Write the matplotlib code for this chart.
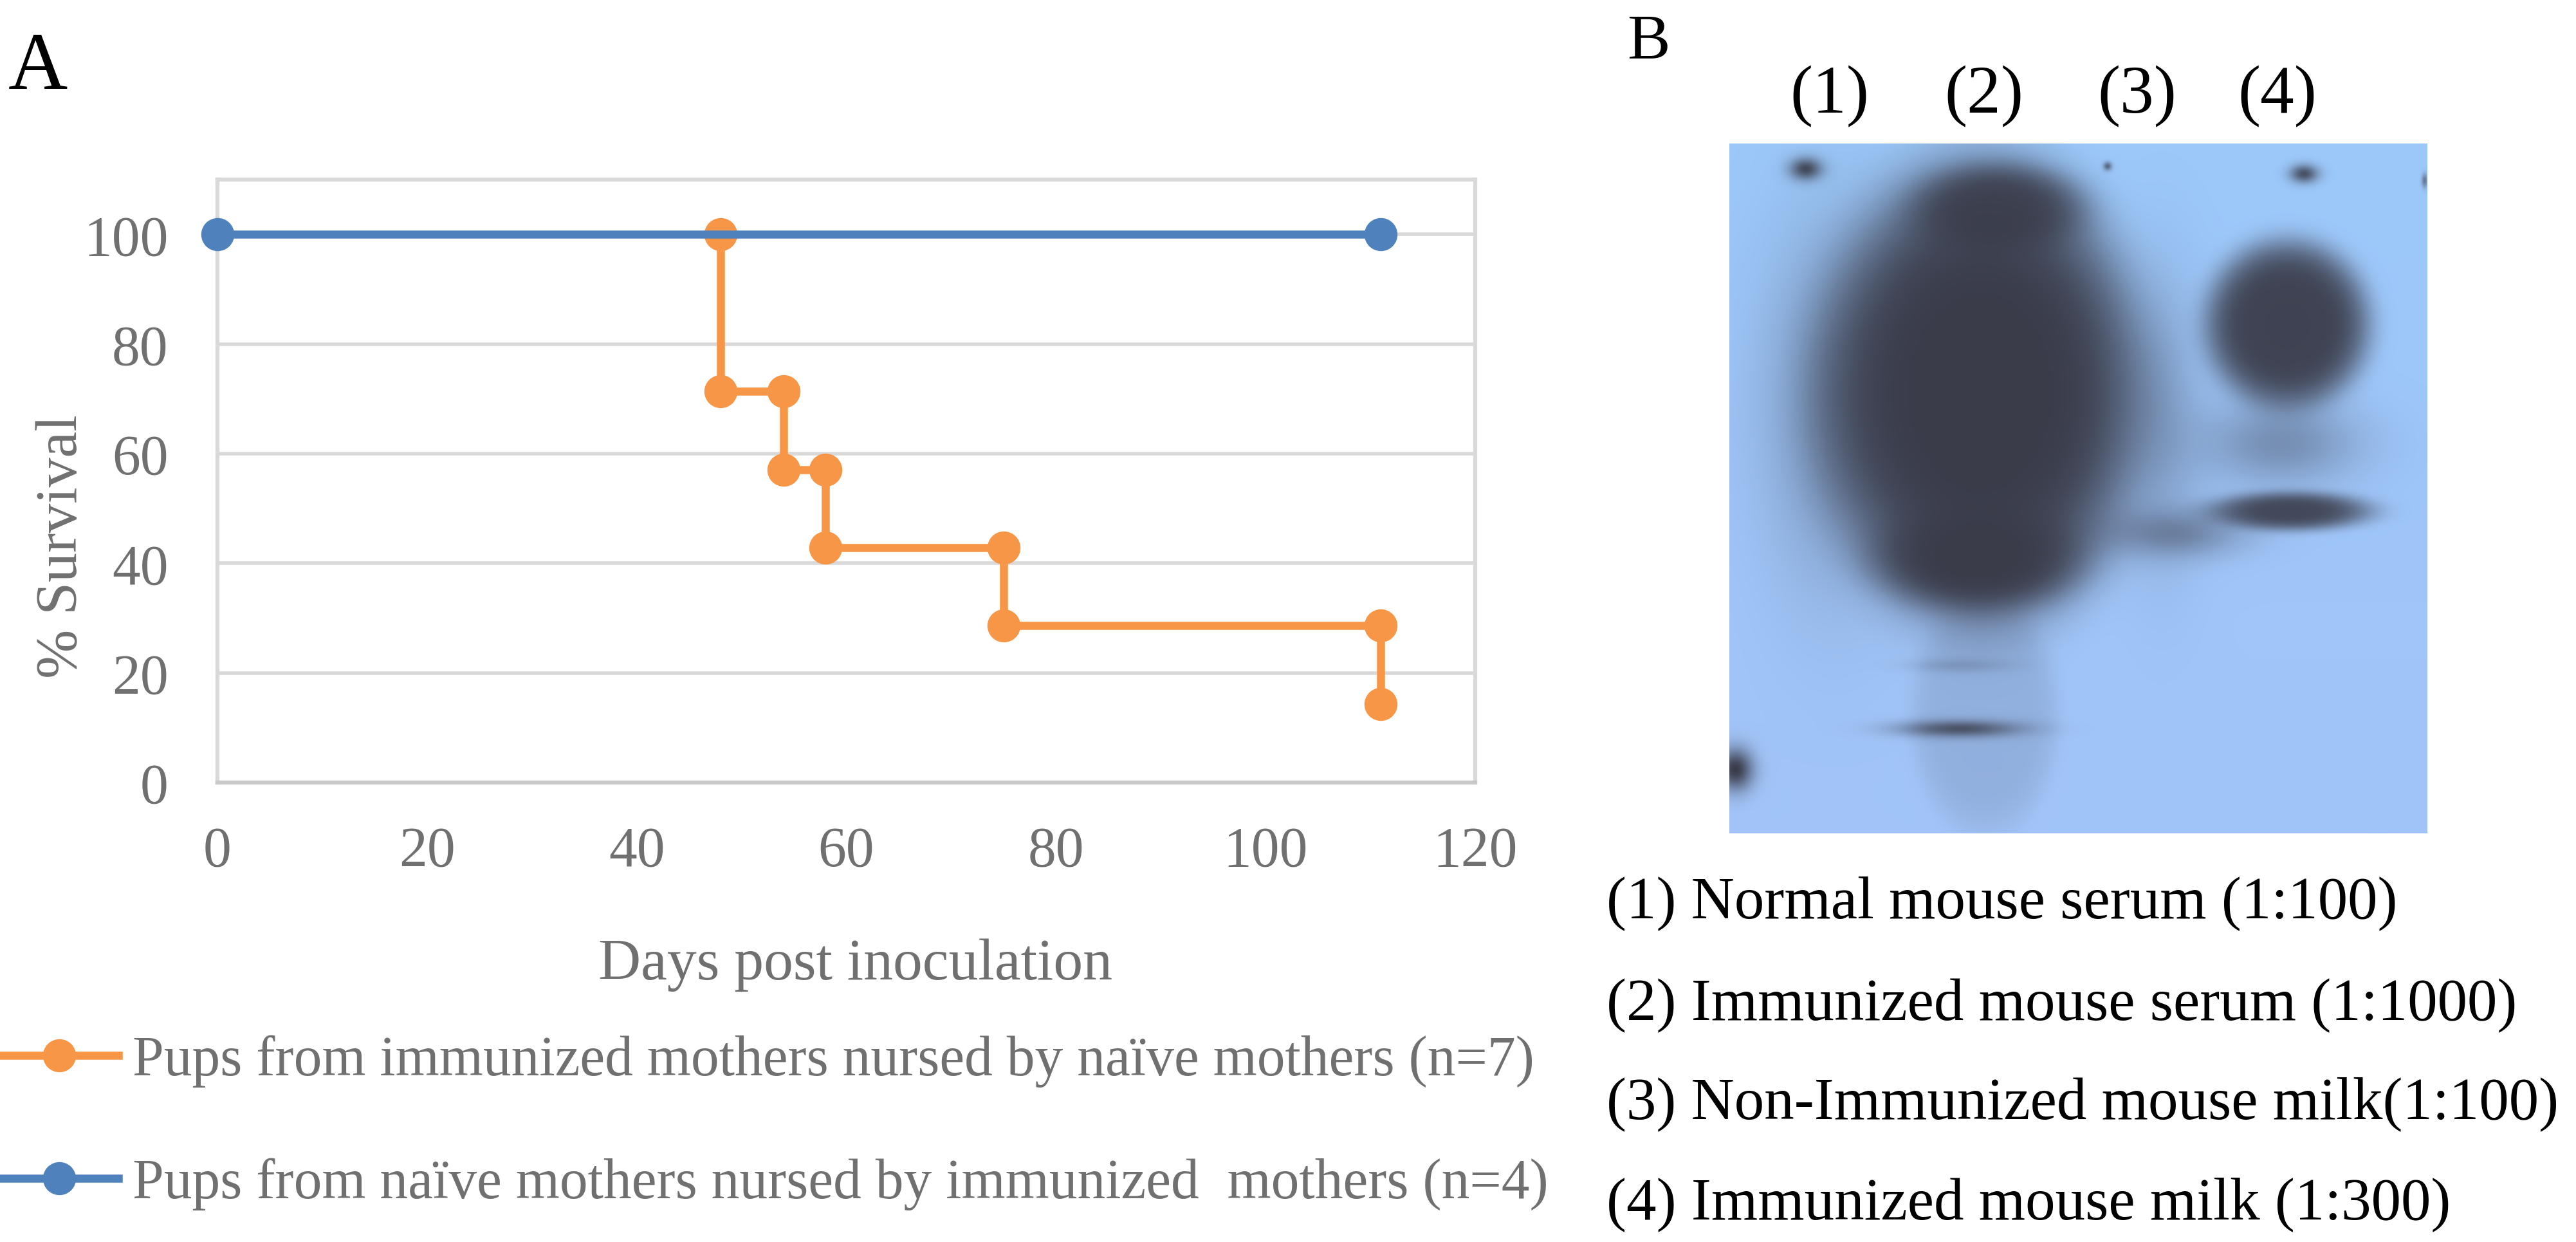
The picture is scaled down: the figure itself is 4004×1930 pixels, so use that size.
import numpy as np
import matplotlib
matplotlib.use('Agg')
import matplotlib.pyplot as plt
from matplotlib.lines import Line2D

# ---------------- data ----------------
days_orange = [48, 48, 54, 54, 58, 58, 75, 75, 111, 111]
surv_orange = [100, 71.4, 71.4, 57.1, 57.1, 42.9, 42.9, 28.6, 28.6, 14.3]
days_blue = [0, 111]
surv_blue = [100, 100]
x_ticks = [0, 20, 40, 60, 80, 100, 120]
y_ticks = [0, 20, 40, 60, 80, 100]
series_labels = ["Pups from immunized mothers nursed by naïve mothers (n=7)",
                 "Pups from naïve mothers nursed by immunized  mothers (n=4)"]
lane_labels = ["(1)", "(2)", "(3)", "(4)"]
caption_lines = ["(1) Normal mouse serum (1:100)",
                 "(2) Immunized mouse serum (1:1000)",
                 "(3) Non-Immunized mouse milk(1:100)",
                 "(4) Immunized mouse milk (1:300)"]

# blot spots (fractions of blot width / height)
blob_cx = [0.360, 0.385, 0.356, 0.150, 0.800, 0.805, 0.640, 0.790, 0.330, 0.330, 0.366, 0.109, 0.824, 0.542, 0.008, 0.997, 0.620]
blob_cy = [0.360, 0.095, 0.600, 0.380, 0.262, 0.533, 0.565, 0.434, 0.849, 0.757, 0.830, 0.036, 0.043, 0.032, 0.908, 0.053, 0.400]
blob_rx = [0.235, 0.120, 0.145, 0.100, 0.118, 0.115, 0.100, 0.110, 0.085, 0.070, 0.105, 0.023, 0.020, 0.006, 0.025, 0.004, 0.060]
blob_ry = [0.330, 0.065, 0.075, 0.250, 0.122, 0.028, 0.035, 0.060, 0.012, 0.010, 0.170, 0.016, 0.013, 0.006, 0.030, 0.010, 0.200]
blob_amp = [1.00, 0.90, 1.00, 0.35, 0.95, 0.90, 0.45, 0.40, 0.80, 0.20, 0.15, 0.90, 0.85, 0.70, 1.00, 0.60, 0.25]
blob_pow = [6, 4, 4, 2, 6, 4, 2, 2, 2, 2, 8, 2, 2, 2, 2, 2, 2]

BLUE = '#4F81BD'
ORANGE = '#F79646'
GRID = '#D9D9D9'
TXT = '#707070'
SERIF = ['Liberation Serif', 'DejaVu Serif']

W, H, DPI = 4004, 1931, 100
def fx(x): return x / W
def fy(y): return 1 - y / H

plt.rcParams['font.family'] = SERIF
fig = plt.figure(figsize=(W / DPI, H / DPI), dpi=DPI)

# ---------------- panel A ----------------
L, R, T, B = 338, 2293, 280, 1217
ax = fig.add_axes([fx(L), fy(B), fx(R) - fx(L), fy(T) - fy(B)])
ax.plot(days_orange, surv_orange, color=ORANGE, lw=9, marker='o', ms=36,
        solid_capstyle='butt', zorder=3, label=series_labels[0])
ax.plot(days_blue, surv_blue, color=BLUE, lw=9, marker='o', ms=36,
        solid_capstyle='butt', zorder=4, label=series_labels[1])
ax.set_xlim(0, 120)
ax.set_ylim(0, 110)
ax.set_xticks(x_ticks)
ax.set_yticks(y_ticks)
ax.grid(axis='y', color=GRID, lw=4, zorder=0)
ax.set_axisbelow(True)
for s in ['top', 'right', 'left']:
    ax.spines[s].set_color(GRID)
    ax.spines[s].set_linewidth(4.5)
ax.spines['bottom'].set_color('#C8C8C8')
ax.spines['bottom'].set_linewidth(4.5)
for sp in ax.spines.values():
    sp.set_zorder(1)
ax.tick_params(length=0, labelsize=63, labelcolor=TXT)
ax.tick_params(axis='y', pad=55)
ax.tick_params(axis='x', pad=48)
for lab in ax.get_xticklabels() + ax.get_yticklabels():
    lab.set_fontfamily(SERIF)
ax.set_xlabel("Days post inoculation", fontsize=66, color=TXT)
ax.xaxis.set_label_coords((1330 - L) / (R - L), (B - 1500) / (B - T))
ax.xaxis.label.set_va('center')
ax.set_ylabel("% Survival", fontsize=66, color=TXT)
ax.yaxis.set_label_coords((97 - L) / (R - L), (B - 849) / (B - T))
ax.yaxis.label.set_va('center')
for ln in ax.lines:
    ln.set_clip_on(False)

handles = [Line2D([], [], color=ORANGE, lw=9, marker='o', ms=36),
           Line2D([], [], color=BLUE, lw=9, marker='o', ms=36)]
leg = fig.legend(handles, series_labels, loc='center left',
                 bbox_to_anchor=(fx(0), fy(1745)), frameon=False,
                 fontsize=63, handlelength=2.1, handletextpad=0.25,
                 labelspacing=1.25, borderpad=0, borderaxespad=0)
for t in leg.get_texts():
    t.set_color(TXT)

fig.text(fx(13), fy(138), "A", fontsize=92, color='black', ha='left', va='baseline')

# ---------------- panel B ----------------
bL, bR, bT, bB = 2688, 3773, 224, 1296
bax = fig.add_axes([fx(bL), fy(bB), fx(bR) - fx(bL), fy(bT) - fy(bB)])
nh, nw = 536, 543
yy, xx = np.mgrid[0:nh, 0:nw]
u = xx / (nw - 1)
v = yy / (nh - 1)
light = np.ones((nh, nw))
for cx, cy, rx, ry, a, p in zip(blob_cx, blob_cy, blob_rx, blob_ry, blob_amp, blob_pow):
    r2 = ((u - cx) / rx) ** 2 + ((v - cy) / ry) ** 2
    light *= 1 - a * np.exp(-r2 ** (p / 2))
dark = 1 - light
bg_top = np.array([156, 200, 250]) / 255
bg_bot = np.array([162, 196, 248]) / 255
bg = bg_top[None, None, :] * (1 - v[..., None]) + bg_bot[None, None, :] * v[..., None]
dk = np.array([58, 60, 74]) / 255
img = bg * (1 - dark[..., None]) + dk[None, None, :] * dark[..., None]
bax.imshow(img, aspect='auto', interpolation='bilinear')
bax.set_axis_off()

fig.text(fx(2529), fy(90), "B", fontsize=72, color='black', ha='left', va='baseline')
lane_x = [2844, 3084, 3322, 3540]
for lx, lab in zip(lane_x, lane_labels):
    fig.text(fx(lx), fy(150), lab, fontsize=76, color='black', ha='center', va='center')
cap_y = [1404, 1563, 1716, 1872]
for cy, lab in zip(cap_y, caption_lines):
    fig.text(fx(2497), fy(cy), lab, fontsize=67, color='black', ha='left', va='center')

fig.savefig('out.png', dpi=DPI, facecolor='white')
